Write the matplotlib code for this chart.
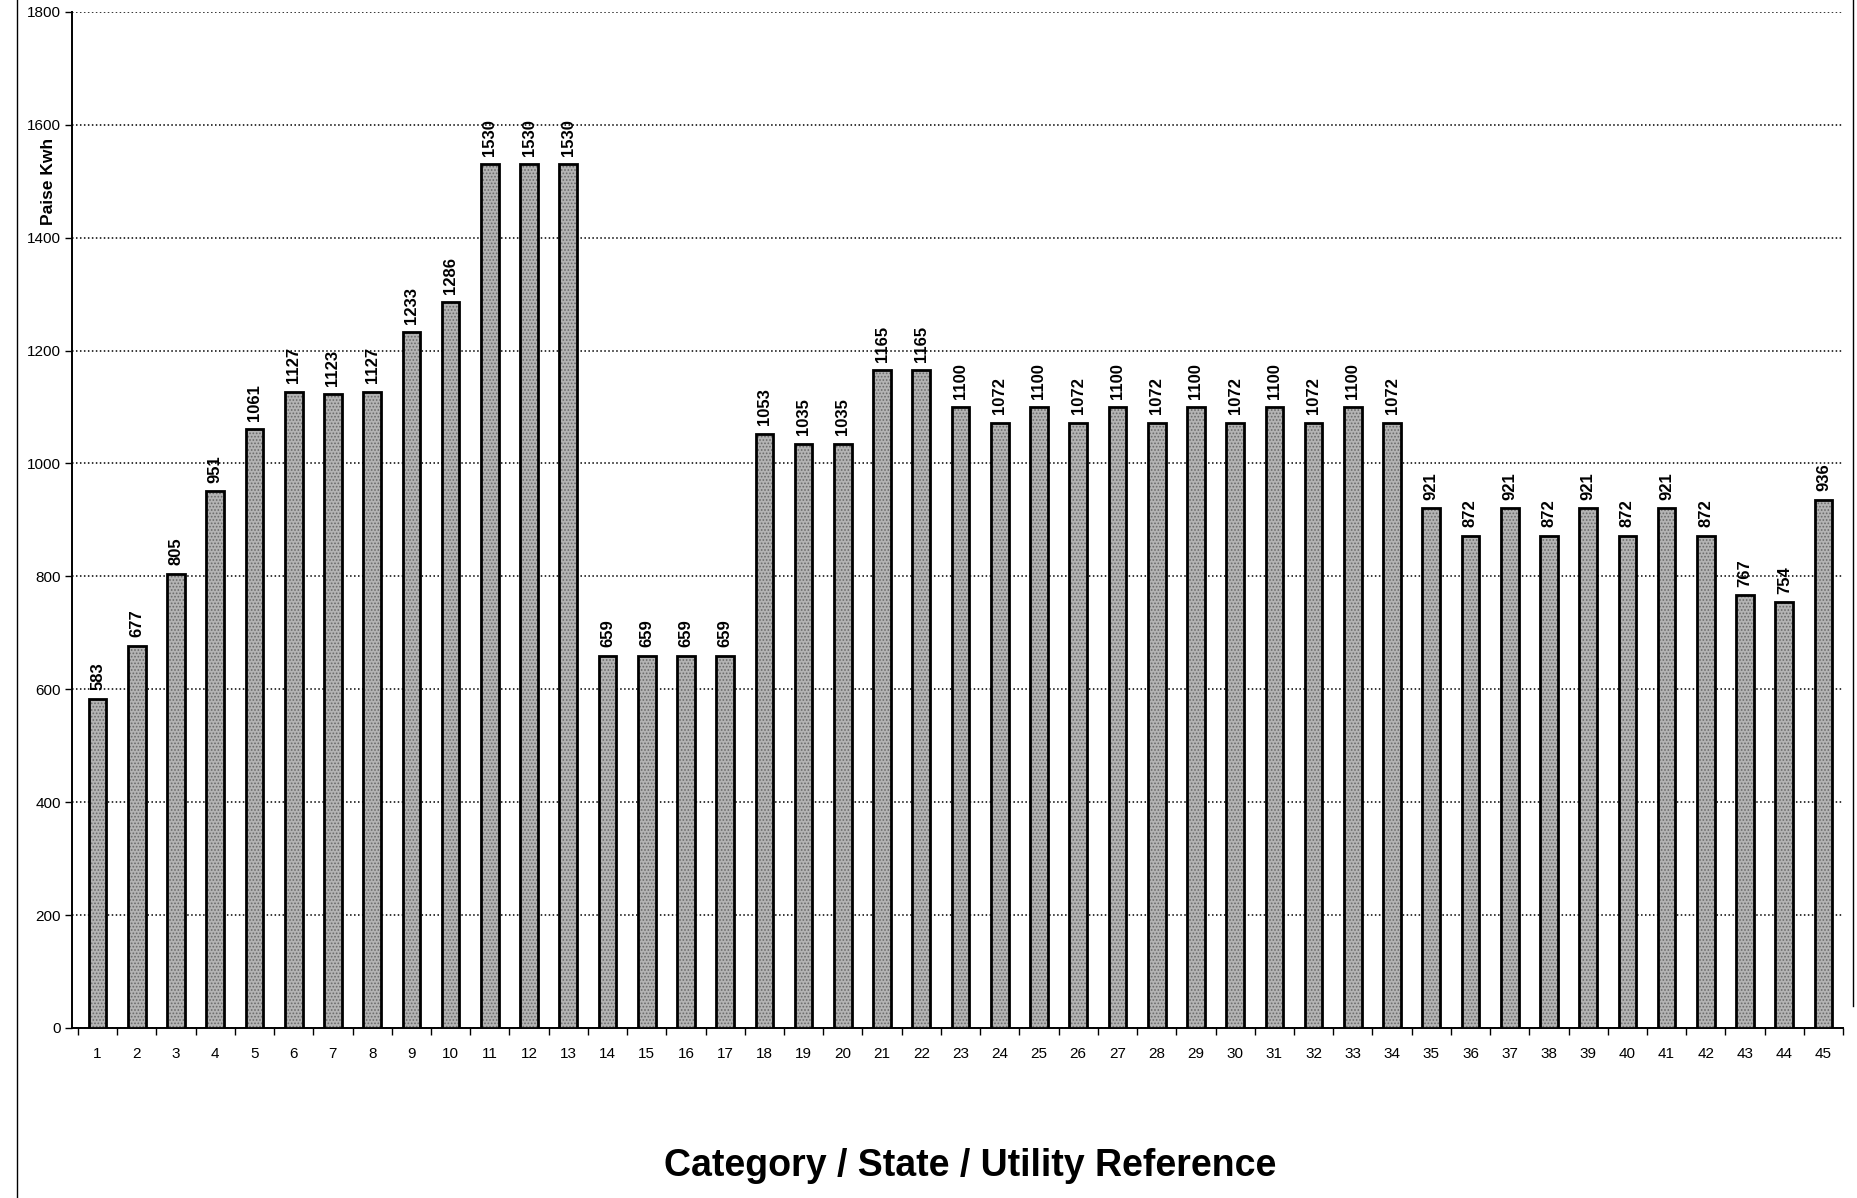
import numpy as np
import matplotlib
matplotlib.use('Agg')
from matplotlib import pyplot as plt
from matplotlib import transforms

# bar values (labels above each bar)
categories = list(range(1, 46))
values = [583, 677, 805, 951, 1061, 1127, 1123, 1127, 1233, 1286,
          1530, 1530, 1530, 659, 659, 659, 659, 1053, 1035, 1035,
          1165, 1165, 1100, 1072, 1100, 1072, 1100, 1072, 1100, 1072,
          1100, 1072, 1100, 1072, 921, 872, 921, 872, 921, 872,
          921, 872, 767, 754, 936]
y_ticks = [0, 200, 400, 600, 800, 1000, 1200, 1400, 1600, 1800]

plt.rcParams['font.family'] = ['Liberation Sans', 'DejaVu Sans']
plt.rcParams['hatch.linewidth'] = 0.8

fig = plt.figure(figsize=(18.58, 11.98), dpi=100)
ax = fig.add_axes([0.039, 0.142, 0.953, 0.848])

# stippled grey fill first, then the black outline on top
ax.bar(categories, values, width=0.45, color='#b4b4b4', edgecolor='#6a6a6a',
       hatch='.....', linewidth=0, zorder=3)
ax.bar(categories, values, width=0.45, fill=False, edgecolor='black',
       linewidth=2.0, zorder=4)

# value labels, rotated like the original
for x, v in zip(categories, values):
    ax.text(x, v + 15, str(v), rotation=90, ha='center', va='bottom',
            fontsize=12, fontweight='bold', zorder=5)

ax.set_xlim(0.36, 45.46)
ax.set_ylim(0, 1800)
ax.set_yticks(y_ticks)
ax.yaxis.grid(True, linestyle=(0, (1, 1.6)), color='black', linewidth=1.1)
ax.set_axisbelow(True)

# category labels centred, tick marks between categories (excel style)
ax.set_xticks(categories)
ax.set_xticklabels([str(c) for c in categories])
ax.set_xticks(np.arange(0.5, 46, 1), minor=True)
ax.tick_params(axis='x', which='major', length=0, pad=14, labelsize=11)
ax.tick_params(axis='x', which='minor', length=5, direction='out', width=1)
ax.tick_params(axis='y', length=5, direction='out', width=1, labelsize=11)

for side in ['top', 'right']:
    ax.spines[side].set_visible(False)
ax.spines['left'].set_linewidth(1.4)
ax.spines['bottom'].set_linewidth(1.4)

# y label sits inside the tick label column, between 1400 and 1600
trans = transforms.blended_transform_factory(fig.transFigure, ax.transData)
fig.text(0.026, 1500, 'Paise Kwh', rotation=90, ha='center', va='center',
         fontsize=12.5, fontweight='bold', transform=trans)
fig.text(0.522, 0.027, 'Category / State / Utility Reference', ha='center',
         va='center', fontsize=27, fontweight='bold')

# chart area border left and right (as on the scanned page)
fig.add_artist(plt.Line2D([0.009, 0.009], [0.0, 1.0], color='black',
                          linewidth=1.0, transform=fig.transFigure))
fig.add_artist(plt.Line2D([0.9975, 0.9975], [0.16, 1.0], color='black',
                          linewidth=1.0, transform=fig.transFigure))

fig.savefig('out.png', dpi=100)
